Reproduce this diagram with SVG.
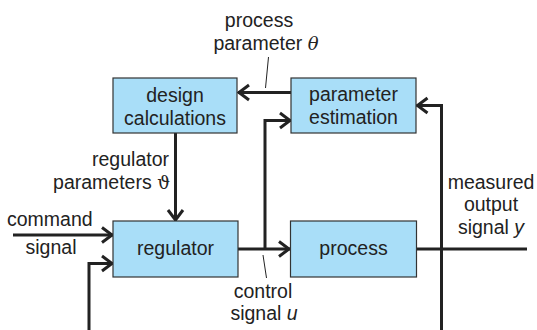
<svg xmlns="http://www.w3.org/2000/svg" width="537" height="330" viewBox="0 0 537 330">
<style>
.box{fill:#a9def8;stroke:#333;stroke-width:1.2}
.t{font-family:"Liberation Sans",Arial,sans-serif;font-size:19.5px;fill:#222}
.m{text-anchor:middle}
.e{text-anchor:end}
.w{fill:none;stroke:#222;stroke-width:3}
.thin{fill:none;stroke:#222;stroke-width:1}
.gr{font-family:"DejaVu Serif",serif;font-style:italic;font-size:18px}
</style>
<defs>
<marker id="ah" markerUnits="userSpaceOnUse" markerWidth="20" markerHeight="20" viewBox="-14 -10 16 20" refX="0" refY="0" orient="auto">
<path d="M-11,-7.5 L-1,0 L-11,7.5" fill="none" stroke="#222" stroke-width="3"/>
</marker>
</defs>
<rect width="537" height="330" fill="#fff"/>
<g id="connectors">
<path class="w" d="M291,92.5 H238" marker-end="url(#ah)"/>
<path class="w" d="M175.5,133 V221" marker-end="url(#ah)"/>
<path class="w" d="M13,235 H113" marker-end="url(#ah)"/>
<path class="w" d="M89,330 V263.5 H113" marker-end="url(#ah)"/>
<path class="w" d="M238,249 H290" marker-end="url(#ah)"/>
<path class="w" d="M265,249 V120.5 H291" marker-end="url(#ah)"/>
<path class="w" d="M416,249 H527"/>
<path class="w" d="M441.5,330 V105.5 H416.5" marker-end="url(#ah)"/>
<path class="thin" d="M268.5,57 L265.5,88"/>
<path class="thin" d="M263,255 L266.5,278"/>
</g>
<g id="design">
<rect class="box" x="113" y="78" width="124" height="55"/>
<text class="t m" x="175" y="102">design</text>
<text class="t m" x="175" y="125">calculations</text>
</g>
<g id="estimation">
<rect class="box" x="291" y="78" width="125" height="55"/>
<text class="t m" x="353.5" y="101">parameter</text>
<text class="t m" x="353.5" y="124">estimation</text>
</g>
<g id="regulator">
<rect class="box" x="113" y="221" width="125" height="56"/>
<text class="t m" x="175.5" y="255">regulator</text>
</g>
<g id="process">
<rect class="box" x="290.5" y="221" width="126" height="56"/>
<text class="t m" x="353.5" y="255">process</text>
</g>
<g id="labels">
<text class="t m" x="259" y="27">process</text>
<text class="t m" x="266" y="50">parameter <tspan class="gr">θ</tspan></text>
<text class="t e" x="169" y="166">regulator</text>
<text class="t e" x="170" y="189">parameters <tspan font-family="DejaVu Serif,serif" font-size="18px">ϑ</tspan></text>
<text class="t" x="7" y="226">command</text>
<text class="t m" x="51" y="254">signal</text>
<text class="t m" x="263" y="298">control</text>
<text class="t m" x="264" y="320">signal <tspan font-style="italic">u</tspan></text>
<text class="t m" x="491" y="189">measured</text>
<text class="t m" x="491" y="211">output</text>
<text class="t m" x="491" y="234">signal <tspan font-style="italic">y</tspan></text>
</g>
</svg>
